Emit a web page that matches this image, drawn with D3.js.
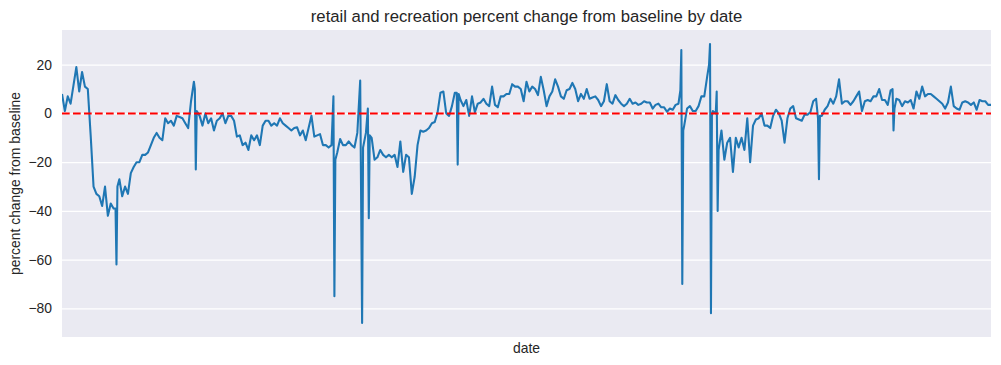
<!DOCTYPE html>
<html><head><meta charset="utf-8">
<script src="https://cdn.jsdelivr.net/npm/d3@7"></script>
<style>
body{margin:0;background:#fff}
text{font-family:"Liberation Sans",Arial,sans-serif;fill:#262626}
</style>
</head><body>
<svg id="chart" width="1001" height="365"></svg>
<script>
// ---- data (Google-mobility style, retail & recreation) ----
const startDate = "2020-02-15";
const stepDays = 3;
const values = [
  8, 1, 7, 4, 11.5, 19, 9, 17, 11, 10,
  -9, -30, -33, -34, -38, -30, -42, -37, -39, -62,
  -27, -34, -30, -33, -24.5, -22, -20, -20, -17, -17,
  -16, -13, -10, -8, -10, -11, -2, -4, -3, -5,
  -1, -1.5, -2, -4, -6, 5, 13, 1, -1, -5,
  0, -4, -2, -7, -3, -2, 0, -4, -1, -1,
  -3, -9.5, -9, -13, -12, -15, -9, -11, -9, -13,
  -5, -3, -3, -5, -4, -5, -2, -4, -5, -6,
  -7, -6, -5.7, -9, -7, -11, -6, -1, -9.5, -9,
  -8.5, -13, -13, -14, -13, -75, -16, -10.5, -13, -13,
  -11.5, -13, -14, -8, 13.5, -14, -8, -43, -10, -19,
  -18, -15, -17, -18, -17, -18, -17, -22, -11.5, -24,
  -17, -18, -33, -26, -13, -7, -7.5, -7, -6, -4,
  -3.5, 0.5, 8.5, 9, 0, -1, 3, 8.5, -21, 5.5,
  3, 5.5, -1, 7, 0.5, 4, 4.5, 6, 4, 3,
  11, 3.5, 2.5, 7, 7, 8, 8, 12, 11, 11,
  10, 5, 13, 9, 11, 10, 7.5, 15, 9.5, 3,
  7, 9, 14, 11, 7, 6, 9.5, 10, 12.5, 10,
  5, 8, 6, 10, 6, 6.5, 7, 5.5, 3, 5,
  12, 5, 4, 7.5, 5.5, 4, 3, 4, 6, 4,
  4.5, 3.5, 4, 5, 4.5, 4.5, 2, 3.5, 4, 2.5,
  2.5, 0.7, 2, 1.5, 3.5, 4, 26, -5, 2, 3,
  1, 1, 3, 7, 7, 15, 28.5, 1, 0, -15,
  -7, -19, -12, -10, -24, -10, -14, -10, -15, -2,
  -20, -5, -2.5, -2, 0, -5, -5, -6, -1, 1.5,
  0, -3, -12, -2, 2, 3, -2, -2.5, -3, -0.5,
  -0.5, 0.5, 5, 6, -27, -1, 1.5, 3, 6, 4,
  7, 14, 4, 5, 5, 3.5, 5, 7, 9, 1,
  5, 5.5, 5, 7, 7, 10, 5.5, 5.5, 3.5, 9.5,
  -7, 6, 5.5, 3, 5, 4.5, 5.5, 2, 9, 6,
  11, 7, 8, 8, 7, 6, 5, 4, 2, 4.5,
  11, 3, 2, 1.5, 4.5, 5, 4.5, 3.5, 4.5, 1.5,
  5.5, 5, 5, 3.5, 3.5
];
// single days read between the regular samples (holidays and their neighbours)
const extraDates = [
  "2020-04-11", "2020-04-13", "2020-07-03", "2020-07-04", "2020-11-25",
  "2020-11-27", "2020-12-25", "2020-12-31", "2021-01-02", "2021-04-03",
  "2021-04-05", "2021-11-23", "2021-11-25", "2021-11-26", "2021-12-23",
  "2021-12-25", "2021-12-26", "2021-12-31", "2022-01-01", "2022-04-16",
  "2022-04-18", "2022-07-03", "2022-07-05"
];
const extraValues = [
  -39, -30, 10, -23, 7,
  -19, -86, 2, -9, 8.5,
  8, 9.5, -70, -7, 20,
  -82, -1, 9, -40, -2,
  -1, 10, 2
];
const yTicks = [-80, -60, -40, -20, 0, 20];
const baselineValue = 0;
const titleText = "retail and recreation percent change from baseline by date";
const xLabelText = "date";
const yLabelText = "percent change from baseline";

// ---- build series ----
const parse = d3.utcParse("%Y-%m-%d");
const t0 = parse(startDate);
const series = values.map((v, i) => ({date: d3.utcDay.offset(t0, i * stepDays), value: v}))
  .concat(extraDates.map((d, i) => ({date: parse(d), value: extraValues[i]})))
  .sort((a, b) => a.date - b.date);

// ---- layout ----
const L = 62, R = 991, T = 30, B = 337;
const svg = d3.select("#chart");

const x = d3.scaleUtc().domain(d3.extent(series, d => d.date)).range([L, R]);
const [lo, hi] = d3.extent(series, d => d.value);
const pad = (hi - lo) * 0.05;
const y = d3.scaleLinear().domain([lo - pad, hi + pad]).range([B, T]);

svg.append("rect").attr("x", L).attr("y", T).attr("width", R - L).attr("height", B - T).attr("fill", "#eaeaf2");

svg.append("defs").append("clipPath").attr("id", "clip")
  .append("rect").attr("x", L).attr("y", T).attr("width", R - L).attr("height", B - T);

const yAxis = svg.append("g").attr("transform", `translate(${L},0)`)
  .call(d3.axisLeft(y).tickValues(yTicks).tickSize(-(R - L)).tickPadding(10).tickFormat(d3.format("d")));
yAxis.select(".domain").remove();
yAxis.selectAll(".tick line").attr("stroke", "#ffffff").attr("stroke-width", 1.1);
yAxis.selectAll(".tick text").attr("font-size", "13.9px").attr("fill", "#262626")
  .style("font-family", '"Liberation Sans", Arial, sans-serif');

const g = svg.append("g").attr("clip-path", "url(#clip)");

const line = d3.line().x(d => x(d.date)).y(d => y(d.value));
g.append("path").datum(series).attr("d", line)
  .attr("fill", "none").attr("stroke", "#1f77b4").attr("stroke-width", 2.08)
  .attr("stroke-linejoin", "round").attr("stroke-linecap", "butt");

g.append("line").attr("x1", L).attr("x2", R).attr("y1", y(baselineValue)).attr("y2", y(baselineValue))
  .attr("stroke", "red").attr("stroke-width", 2.08).attr("stroke-dasharray", "7.7,3.3");

svg.append("text").attr("x", (L + R) / 2).attr("y", 22).attr("text-anchor", "middle")
  .attr("font-size", "16.7px").text(titleText);
svg.append("text").attr("x", (L + R) / 2).attr("y", 353).attr("text-anchor", "middle")
  .attr("font-size", "13.9px").text(xLabelText);
svg.append("text").attr("transform", `translate(19.5,${(T + B) / 2}) rotate(-90)`).attr("text-anchor", "middle")
  .attr("font-size", "13.9px").text(yLabelText);
</script>
</body></html>
